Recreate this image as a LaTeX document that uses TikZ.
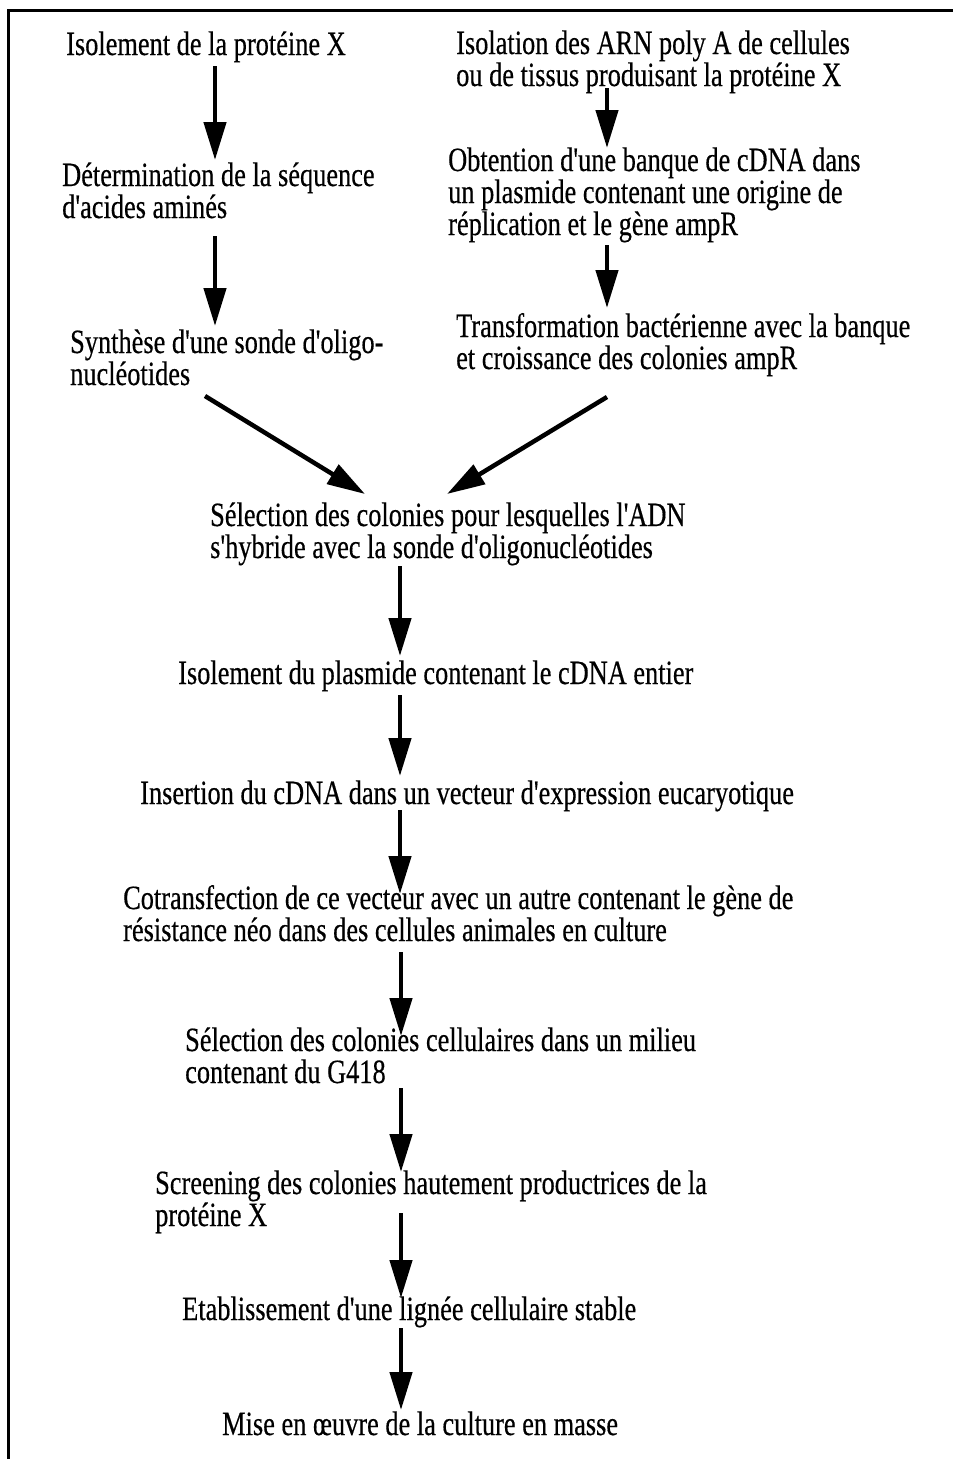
\documentclass[tikz,border=0pt]{standalone}
\usepackage{fontspec}
\setmainfont{Liberation Serif}[FakeStretch=0.775,FakeBold=0.4,Ligatures=TeXOff]
\usetikzlibrary{arrows.meta}
\begin{document}
\begin{tikzpicture}[x=1pt,y=-1pt,
  txt/.style={anchor=base west, inner sep=0pt, align=left, font=\fontsize{34}{32}\selectfont},
  arr/.style={line width=4.5pt, -{Triangle[length=38pt,width=22pt]}},
  frame/.style={line width=3pt}]
\useasboundingbox (0,0) rectangle (953,1459);
% frame (open at right and bottom)
\coordinate (fbl) at (8,1459);
\coordinate (ftl) at (8,10);
\coordinate (ftr) at (953,10);
\draw[frame] (fbl) -- (ftl) -- (ftr);

% texts (anchor = baseline of the last line)
\node[txt] (t1) at (66,55) {Isolement de la protéine X};
\node[txt] (t2) at (456,86) {Isolation des ARN poly A de cellules\\ou de tissus produisant la protéine X};
\node[txt] (t3) at (62,218) {Détermination de la séquence\\d'acides aminés};
\node[txt] (t4) at (448,235) {Obtention d'une banque de cDNA dans\\un plasmide contenant une origine de\\réplication et le gène ampR};
\node[txt] (t5) at (70,385) {Synthèse d'une sonde d'oligo-\\nucléotides};
\node[txt] (t6) at (456,369) {Transformation bactérienne avec la banque\\et croissance des colonies ampR};
\node[txt] (t7) at (210,558) {Sélection des colonies pour lesquelles l'ADN\\s'hybride avec la sonde d'oligonucléotides};
\node[txt] (t8) at (178,684) {Isolement du plasmide contenant le cDNA entier};
\node[txt] (t9) at (140,804) {Insertion du cDNA dans un vecteur d'expression eucaryotique};
\node[txt] (t10) at (123,941) {Cotransfection de ce vecteur avec un autre contenant le gène de\\résistance néo dans des cellules animales en culture};
\node[txt] (t11) at (185,1083) {Sélection des colonies cellulaires dans un milieu\\contenant du G418};
\node[txt] (t12) at (155,1226) {Screening des colonies hautement productrices de la\\protéine X};
\node[txt] (t13) at (182,1320) {Etablissement d'une lignée cellulaire stable};
\node[txt] (t14) at (222,1435) {Mise en œuvre de la culture en masse};

% arrow end points
\coordinate (a1s) at (215,66);   \coordinate (a1e) at (215,160);
\coordinate (a2s) at (607,88);   \coordinate (a2e) at (607,148);
\coordinate (a3s) at (215,236);  \coordinate (a3e) at (215,326);
\coordinate (a4s) at (607,245);  \coordinate (a4e) at (607,308);
\coordinate (a5s) at (205,396);  \coordinate (a5e) at (365,494);
\coordinate (a6s) at (607,397);  \coordinate (a6e) at (447,494);
\coordinate (a7s) at (400,566);  \coordinate (a7e) at (400,656);
\coordinate (a8s) at (400,695);  \coordinate (a8e) at (400,776);
\coordinate (a9s) at (400,810);  \coordinate (a9e) at (400,894);
\coordinate (a10s) at (401,952); \coordinate (a10e) at (401,1036);
\coordinate (a11s) at (401,1088);\coordinate (a11e) at (401,1172);
\coordinate (a12s) at (401,1213);\coordinate (a12e) at (401,1298);
\coordinate (a13s) at (401,1328);\coordinate (a13e) at (401,1410);

\foreach \i in {1,...,13} \draw[arr] (a\i s) -- (a\i e);
\end{tikzpicture}
\end{document}
